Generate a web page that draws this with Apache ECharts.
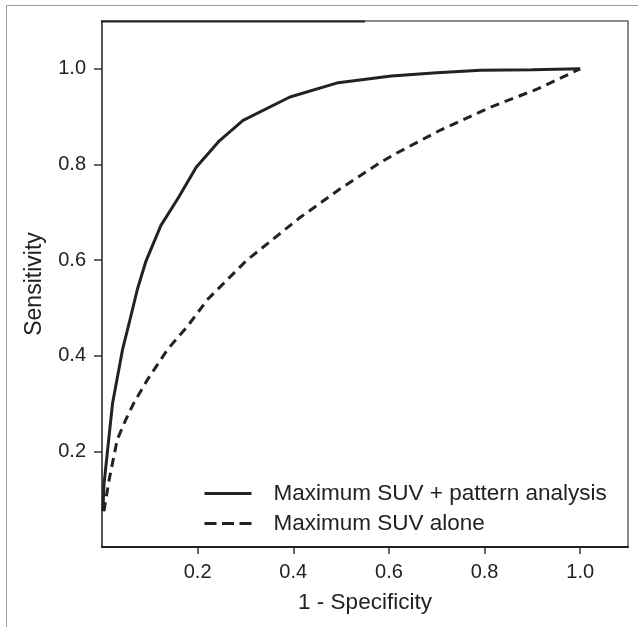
<!DOCTYPE html>
<html>
<head>
<meta charset="utf-8">
<script src="https://cdn.jsdelivr.net/npm/echarts@6/dist/echarts.min.js"></script>
<style>
  html, body { margin: 0; padding: 0; background: #fff; }
  #chart { width: 638px; height: 627px; }
</style>
</head>
<body>
<div id="chart"></div>
<script>
// ---- data ----
const seriesNames = ['Maximum SUV + pattern analysis', 'Maximum SUV alone'];
const tickValues = [0.2, 0.4, 0.6, 0.8, 1.0];

const combinedX = [0.002, 0.004, 0.022, 0.043, 0.057, 0.074, 0.092, 0.123, 0.160, 0.197, 0.246, 0.295, 0.393, 0.494, 0.605, 0.700, 0.792, 0.900, 1.000];
const combinedY = [0.075, 0.130, 0.300, 0.413, 0.469, 0.539, 0.598, 0.672, 0.731, 0.794, 0.850, 0.892, 0.941, 0.971, 0.985, 0.992, 0.997, 0.998, 1.000];

const aloneX = [0.004, 0.015, 0.032, 0.050, 0.067, 0.095, 0.137, 0.179, 0.221, 0.256, 0.302, 0.358, 0.414, 0.463, 0.498, 0.582, 0.613, 0.708, 0.813, 0.911, 1.000];
const aloneY = [0.075, 0.141, 0.225, 0.267, 0.302, 0.350, 0.413, 0.462, 0.518, 0.553, 0.599, 0.644, 0.689, 0.724, 0.749, 0.804, 0.822, 0.872, 0.920, 0.958, 1.000];

const pairs = (xs, ys) => xs.map((x, i) => [x, ys[i]]);

const font = 'Liberation Sans, Arial, Helvetica, sans-serif';
const chart = echarts.init(document.getElementById('chart'), null, { renderer: 'canvas' });

chart.setOption({
  animation: false,
  backgroundColor: '#fff',
  textStyle: { fontFamily: font },
  graphic: [
    {
      type: 'rect', silent: true, z: -10,
      shape: { x: 6.5, y: 5.5, width: 800, height: 800 },
      style: { fill: 'none', stroke: '#9a9a9a', lineWidth: 1 }
    },
    {
      type: 'line', silent: true, z: 50,
      shape: { x1: 101, y1: 21.5, x2: 365, y2: 21.5 },
      style: { stroke: '#222', lineWidth: 2 }
    }
  ],
  grid: {
    left: 102, top: 21, right: 10, bottom: 80,
    show: true, borderColor: '#666', borderWidth: 1.5, backgroundColor: 'transparent'
  },
  legend: {
    orient: 'vertical',
    left: 203, top: 482,
    padding: 0,
    itemWidth: 47, itemHeight: 14, itemGap: 7,
    itemStyle: { opacity: 0 },
    lineStyle: { width: 3 },
    textStyle: { fontSize: 22.5, lineHeight: 22, color: '#222', fontFamily: font, padding: [0, 0, 0, 17] },
    data: [
      { name: seriesNames[0], lineStyle: { width: 3, type: 'solid' } },
      { name: seriesNames[1], lineStyle: { width: 3, type: [12, 5.5] } }
    ]
  },
  xAxis: {
    type: 'value', min: 0, max: 1.1, interval: 0.2,
    name: '1 - Specificity', nameLocation: 'middle', nameGap: 44,
    nameTextStyle: { fontSize: 22.5, color: '#222', fontFamily: font },
    axisLine: { show: true, onZero: false, lineStyle: { color: '#222', width: 2 } },
    axisTick: { show: true, customValues: tickValues, length: 7, lineStyle: { color: '#333', width: 1.5 } },
    axisLabel: { customValues: tickValues, fontSize: 20, color: '#222', margin: 15,
      formatter: v => v.toFixed(1) },
    splitLine: { show: false }
  },
  yAxis: {
    type: 'value', min: 0, max: 1.1, interval: 0.2,
    name: 'Sensitivity', nameLocation: 'middle', nameGap: 56,
    nameTextStyle: { fontSize: 23, color: '#222', fontFamily: font },
    axisLine: { show: true, onZero: false, lineStyle: { color: '#555', width: 2 } },
    axisTick: { show: true, customValues: tickValues, length: 8, lineStyle: { color: '#333', width: 1.5 } },
    axisLabel: { customValues: tickValues, fontSize: 20, color: '#222', margin: 16,
      formatter: v => v.toFixed(1) },
    splitLine: { show: false }
  },
  series: [
    {
      name: seriesNames[0], type: 'line', data: pairs(combinedX, combinedY),
      symbol: 'none', smooth: false,
      lineStyle: { color: '#222', width: 3, type: 'solid' },
      itemStyle: { color: '#222' }
    },
    {
      name: seriesNames[1], type: 'line', data: pairs(aloneX, aloneY),
      symbol: 'none', smooth: false,
      lineStyle: { color: '#222', width: 3, type: [9, 6] },
      itemStyle: { color: '#222' }
    }
  ]
});
</script>
</body>
</html>
